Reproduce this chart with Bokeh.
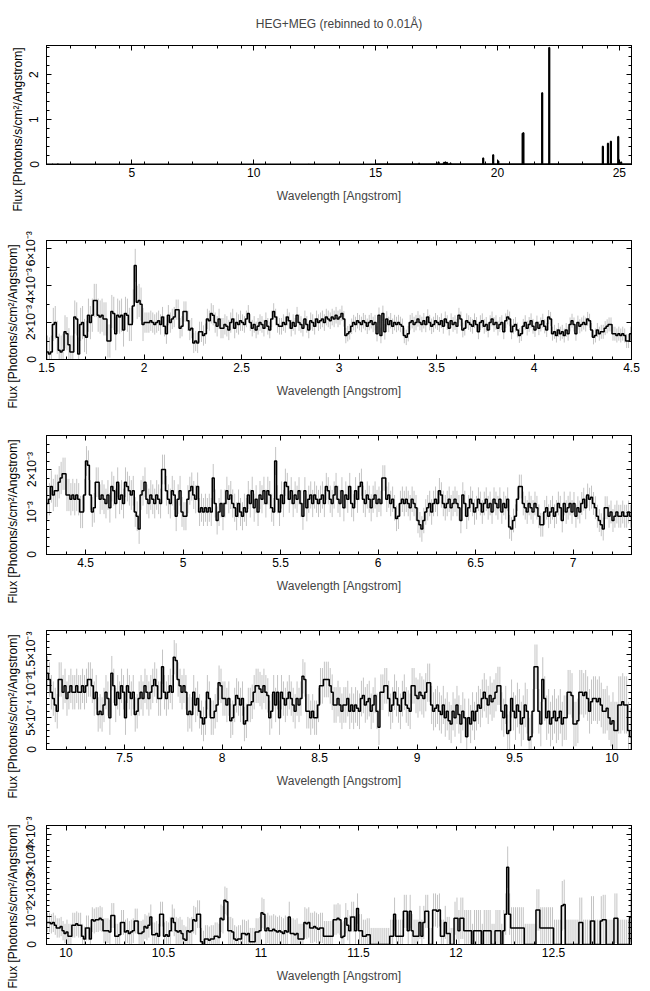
import numpy as np
from bokeh.plotting import figure
from bokeh.layouts import column
from bokeh.models import FixedTicker, LinearAxis, Title, ColumnDataSource, Range1d
from bokeh.embed import file_html
from bokeh.resources import INLINE

# ---------------- data ----------------
TITLE = "HEG+MEG (rebinned to 0.01Å)"
X_LABEL = "Wavelength [Angstrom]"
Y_LABEL = "Flux [Photons/s/cm²/Angstrom]"
BIN_WIDTH = 0.01
FIRST_BIN = 1.5
UNIT = 1e-3  # the flux lists below are in units of 1e-3 photons/s/cm^2/Angstrom

flux_1p5 = [
    0.4, 0.3, 0.4, 1.9, 2.0, 1.2, 0.5, 0.4, 0.5, 1.5,
    1.4, 0.8, 0.4, 0.4, 2.3, 2.2, 0.3, 1.9, 2.0, 1.3,
    1.2, 2.4, 2.0, 2.4, 3.2, 3.2, 2.4, 2.3, 2.4, 2.2,
    2.2, 1.0, 1.0, 2.6, 2.5, 1.4, 2.4, 2.3, 2.4, 1.6,
    2.5, 2.4, 1.9, 1.9, 2.9, 5.1, 3.1, 3.2, 3.0, 1.9,
    2.0, 2.0, 2.0, 2.1, 2.0, 1.9, 2.0, 2.1, 1.9, 2.3,
    1.8, 1.4, 2.4, 2.0, 2.2, 2.3, 2.7, 2.7, 1.7, 1.8,
    2.6, 2.6, 2.1, 1.6, 1.7, 0.9, 1.0, 0.9, 1.5, 1.5,
    1.3, 1.4, 2.2, 2.1, 2.5, 2.4, 2.0, 1.8, 2.2, 1.7,
    1.7, 1.9, 1.8, 1.6, 2.0, 2.2, 1.7, 2.0, 1.9, 2.1]
flux_2p5 = [
    2.0, 1.9, 2.2, 2.5, 2.0, 1.7, 1.9, 1.6, 1.8, 2.0,
    1.9, 1.7, 2.1, 1.8, 1.6, 2.2, 2.6, 2.3, 1.9, 1.8,
    1.8, 2.0, 1.9, 2.3, 2.1, 1.7, 2.0, 1.8, 2.4, 2.0,
    1.9, 1.7, 2.2, 1.9, 1.6, 2.1, 2.0, 1.8, 2.2, 2.0,
    2.1, 2.2, 2.0, 2.3, 2.2, 2.1, 2.3, 2.2, 2.4, 2.2,
    2.3, 2.5, 2.2, 1.3, 1.4, 1.5, 1.8, 2.0, 1.9, 2.1,
    2.0, 1.9, 2.1, 2.0, 1.8, 2.0, 2.1, 1.9, 2.0, 1.4,
    2.4, 1.3, 2.5, 1.5, 2.2, 1.9, 2.1, 1.8, 2.0, 1.9,
    2.0, 1.9, 1.8, 1.3, 1.2, 1.4, 2.0, 2.1, 1.9, 2.0,
    2.2, 2.0, 1.9, 2.1, 1.9, 2.3, 2.0, 1.8, 1.9, 2.1]
flux_3p5 = [
    2.0, 1.9, 2.1, 1.8, 2.2, 2.0, 1.7, 2.1, 1.9, 2.0,
    1.8, 2.4, 2.2, 1.6, 1.7, 2.1, 2.0, 1.9, 1.8, 2.1,
    1.9, 1.5, 2.0, 2.1, 1.8, 1.9, 1.6, 2.0, 2.2, 1.9,
    2.0, 1.7, 1.9, 2.0, 1.5, 2.1, 2.3, 2.2, 1.5, 1.8,
    1.9, 1.6, 1.3, 1.4, 1.8, 2.0, 1.7, 1.9, 2.1, 1.8,
    1.6, 2.0, 1.7, 1.9, 2.1, 1.8, 1.6, 2.3, 2.2, 1.4,
    1.5, 1.3, 1.6, 1.4, 1.5, 1.3, 1.6, 1.4, 1.9, 2.1,
    1.9, 1.4, 2.0, 1.8, 1.9, 2.0, 1.9, 2.2, 2.1, 1.6,
    1.2, 1.3, 1.6, 1.4, 1.5, 1.5, 1.7, 1.8, 1.9, 1.9,
    1.4, 1.4, 1.3, 1.4, 1.3, 1.4, 1.3, 1.0, 1.0, 1.4]
flux_4p5 = [
    2.2, 2.1, 1.4, 1.0, 1.1, 1.7, 1.7, 1.3, 1.4, 1.3,
    1.2, 1.4, 1.1, 1.6, 1.5, 1.2, 1.7, 1.3, 1.4, 1.2,
    1.7, 1.6, 1.5, 1.4, 1.5, 1.0, 0.9, 0.6, 1.4, 1.5,
    1.7, 1.3, 1.2, 1.4, 1.3, 1.2, 1.4, 1.3, 1.2, 2.0,
    2.0, 1.5, 1.3, 1.2, 1.5, 1.4, 0.9, 1.3, 1.5, 1.0,
    0.9, 0.9, 1.3, 1.5, 1.6, 1.4, 1.3, 1.6, 1.0, 1.1,
    1.0, 1.1, 1.0, 1.1, 1.0, 1.8, 1.2, 0.8, 1.0, 1.2,
    0.9, 1.2, 1.5, 1.3, 1.4, 1.2, 1.1, 0.9, 1.2, 1.0,
    0.9, 1.1, 1.0, 1.4, 1.2, 1.5, 1.1, 1.3, 1.0, 1.4,
    1.3, 1.5, 1.2, 1.5, 1.4, 1.1, 1.0, 2.2, 1.3, 1.0]
flux_5p5 = [
    1.4, 1.2, 1.7, 1.6, 1.3, 1.5, 1.2, 1.4, 1.3, 1.5,
    1.2, 0.9, 1.5, 1.1, 1.3, 1.4, 1.2, 1.4, 1.3, 1.2,
    1.3, 1.4, 1.2, 1.6, 1.5, 1.3, 1.2, 1.4, 1.6, 1.3,
    1.2, 1.5, 1.1, 1.4, 1.3, 1.6, 1.2, 1.1, 1.5, 1.3,
    1.6, 1.7, 1.3, 1.2, 1.4, 1.3, 1.1, 1.3, 1.4, 1.2,
    1.3, 1.2, 1.8, 1.8, 1.3, 1.4, 1.2, 1.3, 1.1, 0.85,
    0.9, 1.2, 1.3, 1.2, 1.3, 1.2, 1.1, 1.3, 1.2, 1.1,
    0.8, 0.7, 0.6, 0.8, 1.0, 1.1, 1.2, 1.0, 1.2, 1.3,
    1.2, 1.5, 1.4, 1.2, 1.1, 1.2, 1.3, 1.1, 1.2, 1.3,
    1.2, 1.1, 0.8, 1.4, 1.2, 0.9, 1.1, 1.3, 1.2, 1.0]
flux_6p5 = [
    1.1, 1.3, 1.2, 1.0, 1.2, 1.3, 1.1, 1.2, 1.0, 1.3,
    1.2, 1.1, 1.3, 1.0, 1.2, 1.1, 1.3, 0.65, 0.6, 0.8,
    0.9, 1.3, 1.6, 1.6, 1.2, 1.1, 1.0, 1.2, 1.1, 1.0,
    1.2, 1.1, 0.9, 0.7, 0.7, 1.0, 1.1, 0.9, 1.0, 1.1,
    0.9, 1.0, 1.2, 1.1, 0.8, 1.2, 1.0, 1.1, 1.2, 1.0,
    1.2, 0.9, 1.1, 1.0, 1.2, 1.3, 1.1, 1.4, 1.3, 1.35,
    1.2, 1.1, 0.9, 0.8, 0.7, 0.6, 1.1, 1.1, 0.9, 1.0,
    0.8, 0.9, 1.0, 0.9, 0.9, 1.0, 0.9, 0.9, 1.0, 0.9,
    1.0, 1.1, 1.1, 1.0, 0.8, 0.9, 0.55, 0.6, 0.55, 0.7,
    0.9, 0.8, 0.5, 1.2, 1.0, 0.7, 0.9, 0.8, 1.0, 0.9]
flux_7p5 = [
    0.5, 1.0, 0.9, 0.8, 0.9, 0.55, 0.6, 0.8, 0.9, 0.8,
    1.0, 0.9, 0.8, 0.9, 1.0, 1.1, 1.0, 0.8, 0.8, 1.3,
    0.9, 0.8, 0.9, 1.0, 0.9, 1.45, 1.4, 1.1, 1.0, 0.9,
    1.0, 0.9, 0.55, 0.6, 0.55, 0.9, 0.7, 0.8, 0.6, 0.5,
    0.4, 0.5, 0.9, 0.8, 0.5, 0.5, 0.6, 0.7, 1.05, 1.0,
    0.8, 0.8, 0.7, 0.8, 0.45, 0.5, 0.7, 0.85, 0.8, 0.7,
    0.8, 0.4, 0.45, 0.7, 0.7, 0.75, 0.9, 1.0, 1.0, 0.95,
    0.9, 1.0, 0.9, 0.85, 0.5, 0.6, 0.9, 0.7, 0.9, 0.5,
    0.9, 0.8, 0.7, 0.8, 0.9, 0.8, 0.7, 0.6, 0.8, 0.7,
    0.8, 1.15, 1.1, 0.6, 0.6, 0.5, 0.6, 0.5, 0.5, 0.7]
flux_8p5 = [
    1.0, 1.0, 1.1, 1.1, 1.1, 1.0, 0.9, 0.7, 0.7, 0.8,
    0.7, 0.6, 0.7, 0.7, 0.8, 0.6, 0.7, 0.6, 0.7, 0.65,
    0.6, 0.8, 0.85, 0.7, 0.75, 0.8, 0.6, 0.7, 0.85, 0.6,
    0.35, 0.9, 0.9, 1.0, 1.0, 0.8, 0.6, 0.7, 0.9, 0.8,
    0.7, 0.6, 0.8, 0.9, 0.7, 0.65, 0.6, 1.0, 1.0, 0.85,
    0.8, 0.9, 0.85, 0.8, 0.9, 1.05, 1.05, 0.7, 0.6, 0.65,
    0.7, 0.6, 0.55, 0.7, 0.5, 0.6, 0.45, 0.4, 0.6, 0.5,
    0.7, 0.55, 0.4, 0.6, 0.5, 0.2, 0.5, 0.4, 0.6, 0.45,
    0.6, 0.7, 0.65, 0.8, 0.9, 0.8, 0.7, 0.85, 0.75, 0.8,
    0.9, 1.0, 1.0, 0.6, 0.5, 0.7, 0.25, 0.3, 0.8, 0.6]
flux_9p5 = [
    0.5, 0.7, 0.6, 0.4, 0.5, 0.7, 0.6, 0.15, 0.2, 0.6,
    1.3, 1.3, 0.6, 0.4, 1.1, 0.8, 0.5, 0.6, 0.4, 0.5,
    0.6, 0.45, 0.5, 0.6, 0.4, 0.5, 0.5, 0.9, 0.9, 0.85,
    0.4, 0.4, 0.45, 0.9, 0.9, 0.85, 0.9, 0.8, 0.6, 0.75,
    0.8, 0.8, 0.75, 0.8, 0.7, 0.6, 0.6, 0.65, 0.5, 0.4,
    0.45, 0.3, 0.3, 0.7, 0.7, 0.75, 0.7, 0.7, 0.3, 0.2,
    0.6, 0.6, 0.2, 0.9, 0.85, 0.9, 0.9, 0.95, 0.9, 0.5,
    0.5, 0.5, 0.45, 1.05, 1.05, 0.3, 0.3, 0.35, 0.8, 0.8,
    0.45, 0.5, 0.4, 0.45, 0.5, 0.85, 0.85, 0.4, 0.4, 0.45,
    0.65, 0.6, 0.7, 1.0, 0.35, 0.35, 0.4, 0.3, 1.1, 1.1]
flux_10p5 = [
    0.3, 0.35, 0.3, 0.5, 0.95, 0.8, 0.5, 0.45, 0.5, 0.4,
    0.2, 0.15, 0.5, 0.45, 0.5, 0.9, 0.85, 1.1, 1.1, 0.1,
    0.0, 0.2, 0.2, 0.15, 0.2, 0.2, 0.3, 0.3, 0.25, 0.95,
    0.9, 1.6, 1.55, 0.5, 0.5, 0.45, 0.2, 0.15, 0.2, 0.2,
    0.4, 0.4, 0.35, 0.4, 0.1, 0.1, 0.1, 0.45, 0.45, 0.5,
    1.15, 1.1, 0.5, 0.6, 0.5, 0.5, 0.55, 0.5, 0.45, 0.5,
    0.45, 0.4, 0.5, 0.45, 1.0, 0.4, 0.4, 0.35, 0.4, 0.2,
    0.2, 0.2, 0.8, 0.75, 0.8, 0.6, 0.6, 0.65, 0.6, 0.55,
    0.6, 0.6, 0.3, 0.3, 0.3, 0.3, 0.3, 0.9, 0.9, 0.95,
    0.9, 0.25, 0.3, 0.95, 0.7, 0.5, 1.0, 1.0, 0.5, 1.3]
flux_11p5 = [
    0.5, 0.5, 0.3, 0.3, 0.35, 0.35, 0.0, 0.0, 0.0, 0.0,
    0.0, 0.0, 0.0, 0.0, 0.0, 0.0, 0.3, 0.3, 1.1, 0.3,
    0.3, 0.3, 0.3, 1.2, 1.2, 0.5, 1.2, 0.5, 0.3, 0.3,
    0.3, 0.8, 0.3, 0.8, 1.2, 1.2, 0.0, 0.0, 1.25, 1.25,
    1.2, 1.25, 0.3, 0.3, 0.8, 0.4, 0.4, 0.0, 0.0, 0.95,
    0.95, 0.5, 0.95, 0.95, 0.5, 0.5, 0.5, 0.5, 0.0, 0.5,
    0.5, 0.5, 0.5, 0.0, 0.5, 0.5, 0.5, 0.5, 0.0, 0.0,
    0.5, 0.5, 0.5, 0.0, 0.5, 1.1, 2.8, 1.1, 0.6, 0.6,
    0.6, 0.6, 0.6, 0.6, 0.6, 0.0, 0.0, 0.0, 0.0, 0.0,
    0.0, 1.25, 1.25, 0.6, 0.6, 0.6, 0.6, 0.6, 0.6, 0.6]
flux_12p5 = [
    0.0, 0.0, 0.0, 0.0, 1.4, 1.45, 0.0, 0.0, 0.0, 0.0,
    0.0, 0.0, 0.0, 0.8, 0.8, 0.0, 0.0, 0.0, 0.0, 0.85,
    0.85, 0.0, 0.0, 0.0, 0.85, 0.9, 0.9, 0.0, 0.0, 0.0,
    0.0, 0.95, 0.95, 0.0, 0.0, 0.0, 0.0, 0.0, 0.0, 1.0]

# 1-sigma errors, one value per 0.5 Angstrom (1.5-2.0, 2.0-2.5, ..., 12.5-12.9), units of 1e-3
err_half_angstrom = [0.9, 0.55, 0.45, 0.42, 0.4, 0.38, 0.35, 0.33, 0.32, 0.3, 0.28, 0.27,
                     0.27, 0.27, 0.28, 0.3, 0.35, 0.45, 0.5, 0.55, 0.6, 0.75, 0.9]

# long-wavelength part shown only in the overview panel (photons/s/cm^2/Angstrom)
long_cont_start = [12.9, 15.0, 17.0, 19.0, 21.0, 23.0]
long_cont_level = [0.002, 0.003, 0.004, 0.005, 0.006, 0.007]
line_wl = [16.78, 17.58, 17.80, 17.86, 17.93, 18.07, 19.41, 19.82, 20.03,
           21.03, 21.04, 21.05, 21.06, 21.83, 22.12, 24.32, 24.53, 24.65, 24.95, 25.07]
line_flux = [0.02, 0.05, 0.04, 0.05, 0.04, 0.03, 0.14, 0.21, 0.07,
             0.69, 0.66, 0.66, 0.70, 1.59, 2.60, 0.40, 0.47, 0.51, 0.62, 0.05]

# panel definitions
panel_xrange = [(1.5, 25.5), (1.5, 4.5), (4.3, 7.3), (7.1, 10.1), (9.9, 12.9)]
panel_ymax = [2.65, 6.45e-3, 2.8e-3, 1.87e-3, 4.31e-3]
panel_xticks = [[5, 10, 15, 20, 25],
                [1.5, 2, 2.5, 3, 3.5, 4, 4.5],
                [4.5, 5, 5.5, 6, 6.5, 7],
                [7.5, 8, 8.5, 9, 9.5, 10],
                [10, 10.5, 11, 11.5, 12, 12.5]]
panel_xminor_step = [1.0, 0.1, 0.1, 0.1, 0.1]
panel_yticks = [[0, 1, 2],
                [0, 2e-3, 4e-3, 6e-3],
                [0, 1e-3, 2e-3],
                [0, 5e-4, 1e-3, 1.5e-3],
                [0, 1e-3, 2e-3, 3e-3, 4e-3]]
panel_ylabels = [["0", "1", "2"],
                 ["0", "2×10⁻³", "4×10⁻³", "6×10⁻³"],
                 ["0", "10⁻³", "2×10⁻³"],
                 ["0", "5×10⁻⁴", "10⁻³", "1.5×10⁻³"],
                 ["0", "10⁻³", "2×10⁻³", "3×10⁻³", "4×10⁻³"]]
panel_yminor_step = [0.2, 1e-3, 2e-4, 1e-4, 2e-4]

# ---------------- assemble ----------------
flux_main = np.array(flux_1p5 + flux_2p5 + flux_3p5 + flux_4p5 + flux_5p5 + flux_6p5 +
                     flux_7p5 + flux_8p5 + flux_9p5 + flux_10p5 + flux_11p5 + flux_12p5) * UNIT
n_main = flux_main.size
lo_main = np.round(FIRST_BIN + BIN_WIDTH * np.arange(n_main), 4)
end_main = round(FIRST_BIN + BIN_WIDTH * n_main, 4)
n_chunks = len(err_half_angstrom)
counts = [50] * (n_chunks - 1) + [n_main - 50 * (n_chunks - 1)]
err_main = np.repeat(np.array(err_half_angstrom), counts) * UNIT

n_long = int(round((25.5 - end_main) / BIN_WIDTH))
lo_long = np.round(end_main + BIN_WIDTH * np.arange(n_long), 4)
idx = np.searchsorted(np.array(long_cont_start), lo_long + 1e-9, side="right") - 1
flux_long = np.array(long_cont_level)[idx]
for w, f in zip(line_wl, line_flux):
    j = int(round((w - end_main) / BIN_WIDTH))
    flux_long[j] = f

FONT = "Liberation Sans"


def step_source(lo, vals):
    x = np.append(lo, lo[-1] + BIN_WIDTH)
    y = np.append(vals, vals[-1])
    return ColumnDataSource(dict(x=x, y=y))


def fmt(v):
    return ("%g" % v)


def style_axis(ax, ticker, overrides=None):
    ax.ticker = ticker
    ax.major_tick_in = 5
    ax.major_tick_out = 0
    ax.minor_tick_in = 3
    ax.minor_tick_out = 0
    ax.axis_line_color = "black"
    ax.major_tick_line_color = "black"
    ax.minor_tick_line_color = "black"
    ax.major_label_text_font = FONT
    if overrides is None:
        ax.major_label_text_font_size = "0px"
        ax.major_label_text_color = None
        ax.major_label_standoff = 0
    else:
        ax.major_label_text_color = "black"
        ax.major_label_text_font_size = "12px"
        ax.major_label_overrides = overrides


figs = []
for k in range(5):
    x0, x1 = panel_xrange[k]
    ymax = panel_ymax[k]
    top = 45 if k == 0 else 25
    bottom = 46 if k == 4 else 51
    p = figure(frame_width=585, frame_height=119,
               x_range=Range1d(x0, x1), y_range=Range1d(0, ymax),
               output_backend="svg", toolbar_location=None,
               min_border_left=46, min_border_right=11,
               min_border_top=top, min_border_bottom=bottom,
               background_fill_color="white", border_fill_color="white",
               outline_line_color="black", outline_line_width=1)
    p.xgrid.visible = False
    p.ygrid.visible = False

    xt = FixedTicker(ticks=panel_xticks[k],
                     minor_ticks=list(np.round(np.arange(x0, x1 + 1e-9, panel_xminor_step[k]), 4)))
    yt = FixedTicker(ticks=panel_yticks[k],
                     minor_ticks=list(np.arange(0, ymax, panel_yminor_step[k])))
    style_axis(p.xaxis[0], xt, {float(t): fmt(t) for t in panel_xticks[k]})
    style_axis(p.yaxis[0], yt, {float(t): s for t, s in zip(panel_yticks[k], panel_ylabels[k])})
    p.yaxis[0].major_label_orientation = "vertical"
    p.yaxis[0].major_label_standoff = 8
    p.xaxis[0].major_label_standoff = 3
    p.xaxis[0].axis_label = X_LABEL
    p.xaxis[0].axis_label_text_font = FONT
    p.xaxis[0].axis_label_text_font_size = "12px"
    p.xaxis[0].axis_label_text_font_style = "normal"
    p.xaxis[0].axis_label_standoff = 9

    ax_top = LinearAxis()
    style_axis(ax_top, xt)
    p.add_layout(ax_top, "above")
    ax_right = LinearAxis()
    style_axis(ax_right, yt)
    p.add_layout(ax_right, "right")

    if k == 0:
        lo = np.concatenate([lo_main, lo_long])
        vals = np.concatenate([flux_main, flux_long])
        p.step(x="x", y="y", source=step_source(lo, vals), mode="after",
               line_color="black", line_width=2)
        p.title.text = TITLE
        p.title.align = "center"
        p.title.text_font = FONT
        p.title.text_font_size = "12px"
        p.title.text_font_style = "normal"
        p.title.standoff = 29
    else:
        sel = (lo_main >= x0 - 1e-6) & (lo_main < x1 - 1e-6)
        lo = lo_main[sel]
        vals = flux_main[sel]
        ee = err_main[sel]
        esrc = ColumnDataSource(dict(x=lo + BIN_WIDTH / 2, y0=vals - ee, y1=vals + ee))
        p.segment(x0="x", y0="y0", x1="x", y1="y1", source=esrc,
                  line_color="#c4c4c4", line_width=1)
        p.step(x="x", y="y", source=step_source(lo, vals), mode="after",
               line_color="black", line_width=1.5)

    start = {0: -47, 4: -44}.get(k, -49)
    p.add_layout(Title(text=Y_LABEL, align="left", offset=start, standoff=3,
                       text_font=FONT, text_font_size="12px", text_font_style="normal",
                       text_color="black"), "left")
    figs.append(p)

layout = column(*figs, spacing=0)
open("out.html", "w").write(file_html(layout, INLINE))
